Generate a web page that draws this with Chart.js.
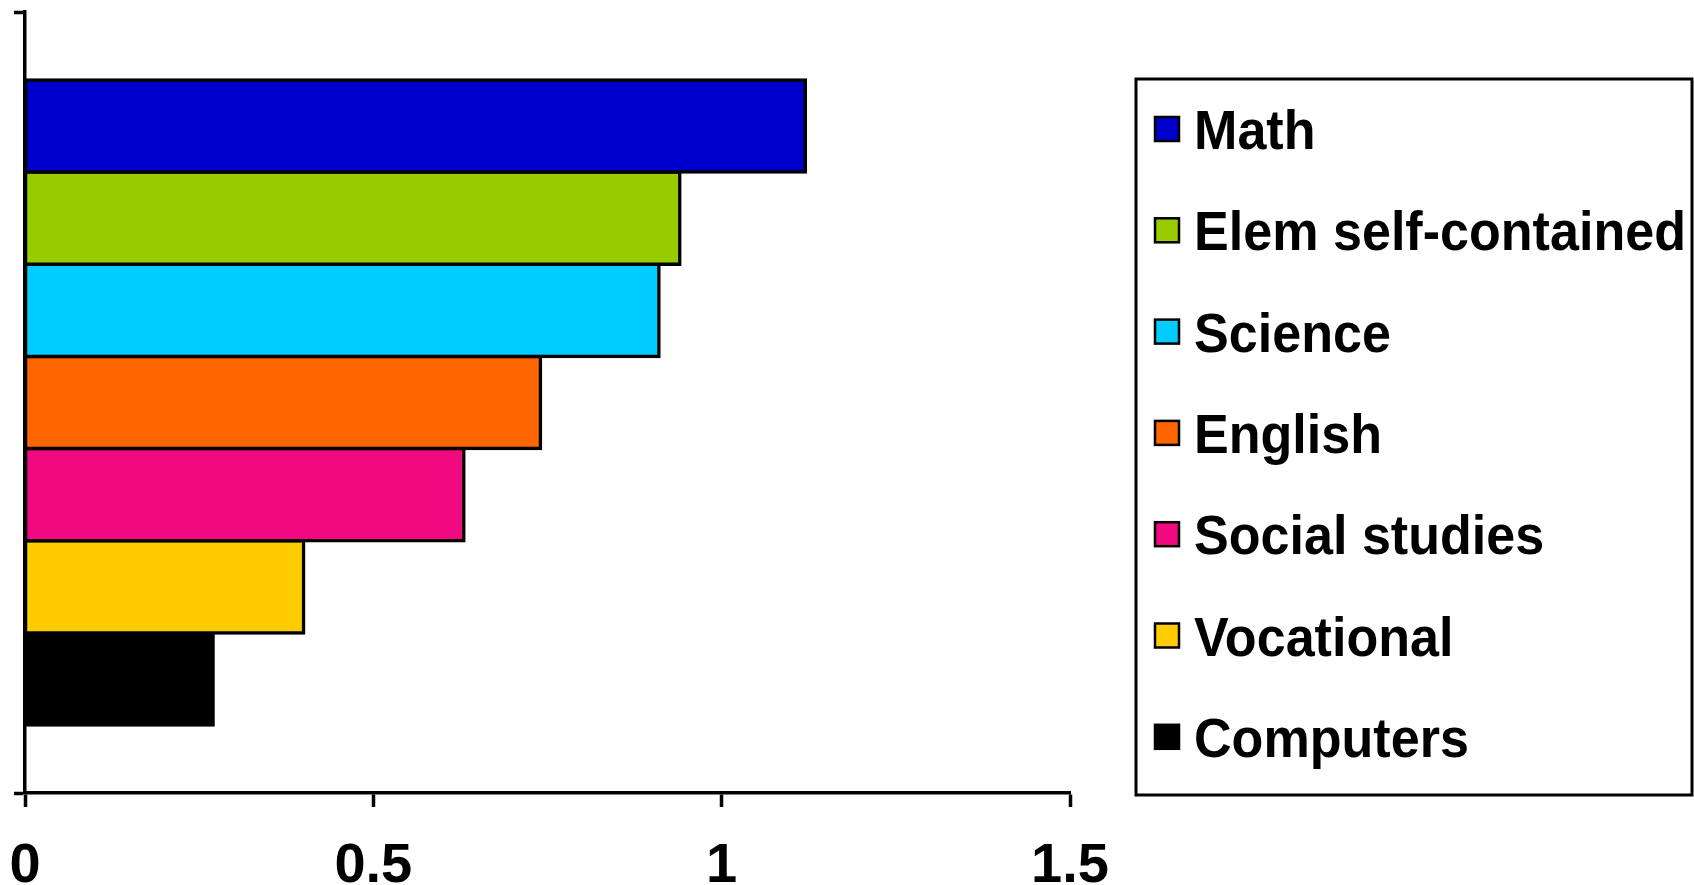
<!DOCTYPE html>
<html>
<head>
<meta charset="utf-8">
<script src="https://cdn.jsdelivr.net/npm/chart.js@4.4.1/dist/chart.umd.min.js"></script>
<style>
  html, body { margin: 0; padding: 0; background: #ffffff; overflow: hidden; }
  #wrap { position: relative; width: 1694px; height: 885px; }
  canvas { display: block; }
</style>
</head>
<body>
<div id="wrap"><canvas id="c" width="1694" height="885"></canvas></div>
<script>
// Subjects, one bar each (top to bottom)
const subjects = ['Math', 'Elem self-contained', 'Science', 'English', 'Social studies', 'Vocational', 'Computers'];
const values = [1.12, 0.94, 0.91, 0.74, 0.63, 0.40, 0.27];
const colors = ['#0000CC', '#99CC00', '#00CCFF', '#FF6600', '#F0097F', '#FFCC00', '#000000'];
const xTickValues = [0, 0.5, 1, 1.5];
const xTickLabels = ['0', '0.5', '1', '1.5'];
const category = [''];

const FONT = '"Liberation Sans", Arial, Helvetica, sans-serif';

// Boxed legend on the right-hand side
const boxLegend = {
  id: 'boxLegend',
  afterDraw(chart) {
    const ctx = chart.ctx;
    const box = { x: 1136, y: 79, w: 556, h: 716 };
    ctx.save();
    ctx.lineWidth = 3;
    ctx.strokeStyle = '#000';
    ctx.strokeRect(box.x, box.y, box.w, box.h);
    ctx.font = 'bold 56px ' + FONT;
    ctx.textBaseline = 'alphabetic';
    chart.data.datasets.forEach((ds, i) => {
      const cy = 129 + i * 101.3;
      ctx.fillStyle = ds.backgroundColor;
      ctx.fillRect(1155, cy - 12, 24, 24);
      ctx.lineWidth = 2.5;
      ctx.strokeStyle = '#000';
      ctx.strokeRect(1155, cy - 12, 24, 24);
      ctx.save();
      ctx.translate(1194, cy + 20);
      ctx.scale(0.93, 1);
      ctx.fillStyle = '#000';
      ctx.fillText(ds.label, 0, 0);
      ctx.restore();
    });
    ctx.restore();
  }
};

new Chart(document.getElementById('c'), {
  type: 'bar',
  data: {
    labels: category,
    datasets: subjects.map((s, i) => ({
      label: s,
      data: [values[i]],
      backgroundColor: colors[i],
      borderColor: '#000000',
      borderWidth: 3.5,
      inflateAmount: 1.75,   // centre the outline on the bar edge
      borderSkipped: false
    }))
  },
  options: {
    indexAxis: 'y',
    responsive: false,
    animation: false,
    devicePixelRatio: 1,
    categoryPercentage: 0.826,
    barPercentage: 1.0,
    layout: { padding: { left: 0, right: 624, top: 12, bottom: 0 } },
    plugins: {
      legend: { display: false },
      tooltip: { enabled: false }
    },
    scales: {
      x: {
        type: 'linear',
        min: 0,
        max: 1.5,
        afterBuildTicks: (scale) => { scale.ticks = xTickValues.map(v => ({ value: v })); },
        afterFit: (scale) => {
          scale.height = 92;
          scale.paddingLeft = 0;
          scale.paddingRight = 0;
        },
        grid: {
          display: true,
          drawOnChartArea: false,
          drawTicks: true,
          tickLength: 14,
          tickWidth: 3.5,
          tickColor: '#000'
        },
        border: { display: true, color: '#000', width: 3.5 },
        ticks: {
          color: '#000',
          padding: 26,
          maxRotation: 0,
          autoSkip: false,
          font: { family: FONT, size: 56, weight: 'bold' },
          callback: (v, i) => xTickLabels[i]
        }
      },
      y: {
        type: 'category',
        afterFit: (scale) => { scale.width = 25; },
        grid: {
          display: true,
          offset: true,
          drawOnChartArea: false,
          drawTicks: true,
          tickLength: 11,
          tickWidth: 3.5,
          tickColor: '#000'
        },
        border: { display: true, color: '#000', width: 3.5 },
        ticks: { display: false }
      }
    }
  },
  plugins: [boxLegend]
});
</script>
</body>
</html>
